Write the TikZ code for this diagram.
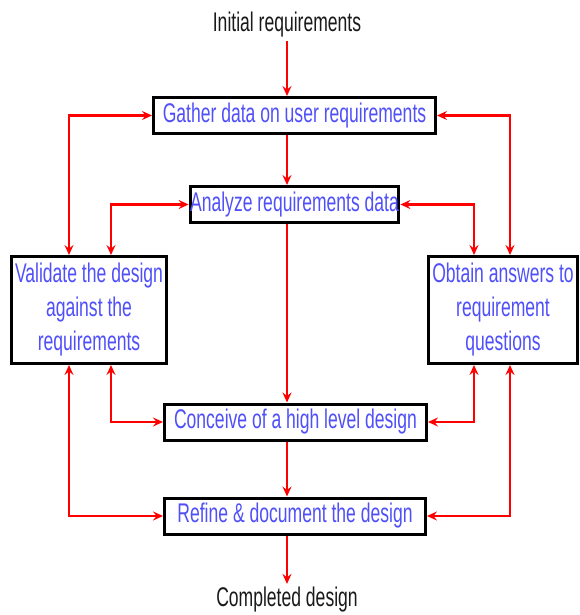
\documentclass[tikz,border=0pt]{standalone}
\usepackage{fontspec}
\setmainfont{Liberation Sans}[FakeStretch=0.65]
\usetikzlibrary{arrows.meta,positioning}
\definecolor{boxblue}{RGB}{80,80,250}
\definecolor{linkred}{RGB}{255,0,0}

\begin{document}
\begin{tikzpicture}[x=1pt,y=-1pt,>={Stealth[length=10pt,width=9pt,inset=3.5pt]},
    stepbox/.style={draw=black,line width=3pt,fill=white,text=boxblue,inner sep=0pt,
        minimum height=36pt,font=\fontsize{27}{34}\selectfont,align=center},
    sidebox/.style={stepbox,minimum height=107pt},
    label/.style={font=\fontsize{27}{34}\selectfont,text=black!90},
    link/.style={draw=linkred,line width=2.2pt}]

                \useasboundingbox (0,0) rectangle (580,615);

                \node[label] (start) at (287,25) {Initial requirements};

                \node[stepbox,minimum width=282pt] (gather) at (294.5,115.5) {Gather data on user requirements};

                \node[stepbox,minimum width=208pt] (analyze) at (294.5,204.5) {Analyze requirements data};

                \node[sidebox,minimum width=155pt] (validate) at (89,310) {Validate the design\\against the\\requirements};

                \node[sidebox,minimum width=149pt] (obtain) at (503,310) {Obtain answers to\\requirement\\questions};

                \node[stepbox,minimum width=262pt] (conceive) at (295.5,422) {Conceive of a high level design};

                \node[stepbox,minimum width=261pt] (refine) at (295,516) {Refine \& document the design};

                \node[label] (finish) at (287,600) {Completed design};

                

                \draw[link,->] (start) -- (start |- gather.north);

                \draw[link,->] (gather.south -| start) -- (analyze.north -| start);

                \draw[link,->] (analyze.south -| start) -- (conceive.north -| start);

                \draw[link,->] (conceive.south -| start) -- (refine.north -| start);

                \draw[link,->] (refine.south -| start) -- (finish);

                

                \draw[link,<->] ([xshift=-20pt]validate.north) |- (gather.west);

                \draw[link,<->] ([xshift=22pt]validate.north) |- (analyze.west);

                \draw[link,<->] ([xshift=22pt]validate.south) |- (conceive.west);

                \draw[link,<->] ([xshift=-20pt]validate.south) |- (refine.west);

                \draw[link,<->] ([xshift=7pt]obtain.north) |- (gather.east);

                \draw[link,<->] ([xshift=-29pt]obtain.north) |- (analyze.east);

                \draw[link,<->] ([xshift=-29pt]obtain.south) |- (conceive.east);

                \draw[link,<->] ([xshift=7pt]obtain.south) |- (refine.east);

            \end{tikzpicture}
\end{document}
